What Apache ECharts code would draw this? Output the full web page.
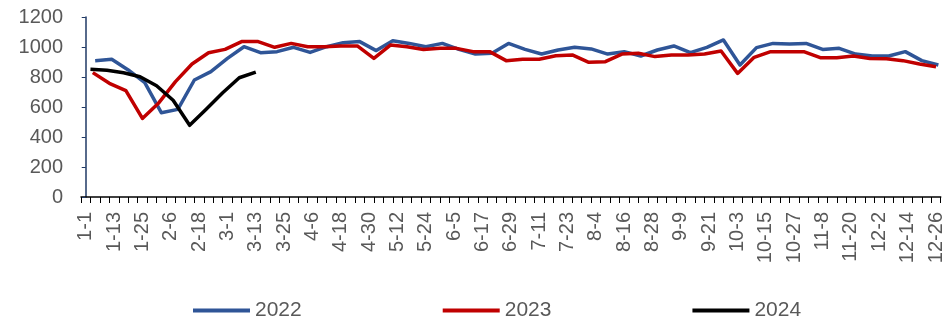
<!DOCTYPE html>
<html>
<head>
<meta charset="utf-8">
<script src="https://cdn.jsdelivr.net/npm/echarts@6/dist/echarts.min.js"></script>
<style>
  html, body { margin: 0; padding: 0; background: #fff; }
  #chart { width: 946px; height: 321px; }
</style>
</head>
<body>
<div id="chart"></div>
<script>
// x 轴标签（每 12 天一个）
const xLabels = ['1-1', '1-13', '1-25', '2-6', '2-18', '3-1', '3-13', '3-25', '4-6', '4-18',
  '4-30', '5-12', '5-24', '6-5', '6-17', '6-29', '7-11', '7-23', '8-4', '8-16',
  '8-28', '9-9', '9-21', '10-3', '10-15', '10-27', '11-8', '11-20', '12-2', '12-14', '12-26'];

// 各年份首个周度数据所在的日序号（1-1 = 0）
const start2022 = 4;
const start2023 = 3;
const start2024 = 2;

// 周度数据
const values2022 = [909, 918, 847, 762, 562, 584, 780, 836, 924, 1002,
  962, 969, 998, 964, 1002, 1029, 1036, 976, 1042, 1024,
  1002, 1024, 984, 953, 958, 1024, 984, 953, 980, 998,
  987, 953, 969, 940, 980, 1007, 962, 998, 1047, 880,
  996, 1024, 1020, 1024, 984, 991, 953, 940, 940, 969,
  909, 880];
const values2023 = [829, 758, 709, 524, 629, 769, 887, 962, 984, 1036,
  1036, 998, 1024, 1002, 1002, 1007, 1007, 924, 1013, 1002,
  984, 991, 991, 969, 969, 909, 918, 918, 942, 947,
  898, 902, 953, 958, 936, 947, 947, 953, 973, 824,
  931, 969, 969, 969, 929, 929, 940, 924, 922, 909,
  887, 869];
const values2024 = [851, 845, 828, 802, 742, 645, 478, 585, 695, 795, 833];

// 周序号 -> 日序号
const toPoints = (start, values) => values.map((v, i) => [start + i * 7, v]);

const labelValues = xLabels.map((_, i) => i * 12);
const tickValues = [];
for (let d = -2; d <= 362; d += 4) tickValues.push(d);

const chart = echarts.init(document.getElementById('chart'));

const font = '"Liberation Sans", Arial, sans-serif';

const makeSeries = (name, color, start, values) => ({
  name,
  type: 'line',
  data: toPoints(start, values),
  symbol: 'none',
  lineStyle: { color, width: 3.5, join: 'round' },
  itemStyle: { color },
});

chart.setOption({
  animation: false,
  grid: { left: 81, right: 0, top: 17, bottom: 124 },
  legend: {
    left: 188,
    top: 295,
    itemWidth: 57,
    itemHeight: 4,
    itemGap: 141,
    icon: 'rect',
    textStyle: { color: '#595959', fontSize: 21, fontFamily: font },
    data: ['2022', '2023', '2024'],
  },
  xAxis: {
    type: 'value',
    min: -2,
    max: 362,
    axisLine: { onZero: false, lineStyle: { color: '#000', width: 1.5 } },
    axisTick: { show: true, length: 6, customValues: tickValues, lineStyle: { color: '#000', width: 1 } },
    axisLabel: {
      customValues: labelValues,
      rotate: 90,
      margin: 15,
      color: '#595959',
      fontSize: 20,
      fontFamily: font,
      formatter: (v) => xLabels[Math.round(v / 12)],
    },
    splitLine: { show: false },
  },
  yAxis: {
    type: 'value',
    min: 0,
    max: 1200,
    interval: 200,
    axisLine: { show: true, lineStyle: { color: '#1F3864', width: 1.5 } },
    axisTick: { show: true, length: 4, lineStyle: { color: '#1F3864' } },
    axisLabel: {
      color: '#595959',
      fontSize: 20,
      fontFamily: font,
      margin: 18,
      formatter: (v) => String(v),
    },
    splitLine: { show: false },
  },
  series: [
    makeSeries('2022', '#2F5597', start2022, values2022),
    makeSeries('2023', '#C00000', start2023, values2023),
    makeSeries('2024', '#000000', start2024, values2024),
  ],
});
</script>
</body>
</html>
